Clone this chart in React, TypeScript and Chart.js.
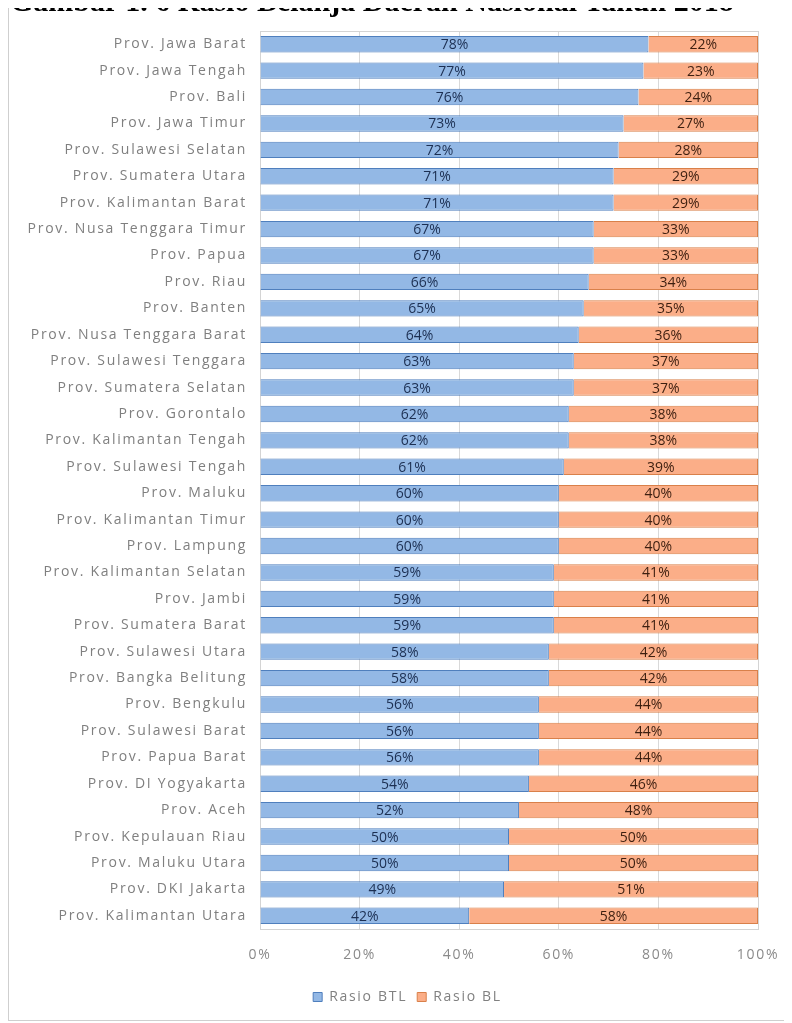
import React, { useEffect, useRef } from "react";
import { Chart, registerables } from "chart.js";

Chart.register(...registerables);

const titleText = "Gambar 1. 6 Rasio Belanja Daerah Nasional Tahun 2018";

const provinces = [
  "Prov. Jawa Barat",
  "Prov. Jawa Tengah",
  "Prov. Bali",
  "Prov. Jawa Timur",
  "Prov. Sulawesi Selatan",
  "Prov. Sumatera Utara",
  "Prov. Kalimantan Barat",
  "Prov. Nusa Tenggara Timur",
  "Prov. Papua",
  "Prov. Riau",
  "Prov. Banten",
  "Prov. Nusa Tenggara Barat",
  "Prov. Sulawesi Tenggara",
  "Prov. Sumatera Selatan",
  "Prov. Gorontalo",
  "Prov. Kalimantan Tengah",
  "Prov. Sulawesi Tengah",
  "Prov. Maluku",
  "Prov. Kalimantan Timur",
  "Prov. Lampung",
  "Prov. Kalimantan Selatan",
  "Prov. Jambi",
  "Prov. Sumatera Barat",
  "Prov. Sulawesi Utara",
  "Prov. Bangka Belitung",
  "Prov. Bengkulu",
  "Prov. Sulawesi Barat",
  "Prov. Papua Barat",
  "Prov. DI Yogyakarta",
  "Prov. Aceh",
  "Prov. Kepulauan Riau",
  "Prov. Maluku Utara",
  "Prov. DKI Jakarta",
  "Prov. Kalimantan Utara",
];

const rasioBTL = [
  78, 77, 76, 73, 72, 71, 71, 67, 67, 66, 65, 64, 63, 63, 62, 62, 61, 60, 60, 60,
  59, 59, 59, 58, 58, 56, 56, 56, 54, 52, 50, 50, 49, 42,
];

const rasioBL = [
  22, 23, 24, 27, 28, 29, 29, 33, 33, 34, 35, 36, 37, 37, 38, 38, 39, 40, 40, 40,
  41, 41, 41, 42, 42, 44, 44, 44, 46, 48, 50, 50, 51, 58,
];

const seriesNames = ["Rasio BTL", "Rasio BL"];
const xTickLabels = ["0%", "20%", "40%", "60%", "80%", "100%"];

const FONT = "'Open Sans', 'DejaVu Sans', sans-serif";

const spacingPlugin = {
  id: "spacing",
  beforeUpdate(chart: any) {
    chart.ctx.letterSpacing = "1.7px";
  },
  beforeDraw(chart: any) {
    chart.ctx.letterSpacing = "1.7px";
  },
};

const legendShiftPlugin = {
  id: "legendShift",
  afterLayout(chart: any) {
    const lg = chart.legend;
    if (lg) {
      lg.left += 24;
      lg.right += 24;
    }
  },
};

const framePlugin = {
  id: "frame",
  beforeDatasetsDraw(chart: any) {
    const { ctx, chartArea } = chart;
    ctx.save();
    ctx.strokeStyle = "#d4d4d4";
    ctx.lineWidth = 1;
    ctx.strokeRect(
      Math.round(chartArea.left) + 0.5,
      Math.round(chartArea.top) + 0.5,
      Math.round(chartArea.right - chartArea.left),
      Math.round(chartArea.bottom - chartArea.top)
    );
    ctx.restore();
  },
};

const labelColors = ["#1c2f52", "#3d1f10"];

const dataLabelPlugin = {
  id: "dataLabels",
  afterDatasetsDraw(chart: any) {
    const { ctx } = chart;
    ctx.save();
    ctx.letterSpacing = "0px";
    ctx.font = `14px ${FONT}`;
    ctx.textAlign = "center";
    ctx.textBaseline = "middle";
    chart.data.datasets.forEach((ds: any, di: number) => {
      const meta = chart.getDatasetMeta(di);
      ctx.fillStyle = labelColors[di];
      meta.data.forEach((el: any, i: number) => {
        const cx = (el.x + el.base) / 2;
        ctx.fillText(ds.data[i] + "%", cx, el.y + 1);
      });
    });
    ctx.restore();
  },
};

export default function App() {
  const canvasRef = useRef<HTMLCanvasElement | null>(null);

  useEffect(() => {
    const canvas = canvasRef.current;
    if (!canvas) return;
    const chart = new Chart(canvas, {
      type: "bar",
      data: {
        labels: provinces,
        datasets: [
          {
            label: seriesNames[0],
            data: rasioBTL,
            backgroundColor: "#93b8e5",
            borderColor: "#4f7fbd",
            borderWidth: 1,
            barPercentage: 0.62,
            categoryPercentage: 1,
          },
          {
            label: seriesNames[1],
            data: rasioBL,
            backgroundColor: "#fbae88",
            borderColor: "#d9804a",
            borderWidth: 1,
            barPercentage: 0.62,
            categoryPercentage: 1,
          },
        ],
      },
      options: {
        indexAxis: "y",
        responsive: false,
        animation: false,
        layout: { padding: { top: 23, right: 32, left: 0, bottom: 6 } },
        scales: {
          x: {
            stacked: true,
            min: 0,
            max: 100,
            ticks: {
              stepSize: 20,
              callback: (_v: any, i: number) => xTickLabels[i],
              color: "#8a8a8a",
              font: { family: FONT, size: 14 },
              padding: 18,
            },
            grid: { color: "#d9d9d9", drawTicks: false, lineWidth: 1 },
            border: { display: false },
            afterFit: (s: any) => {
              s.height = 51;
              s.paddingRight = 0;
              s.paddingLeft = 0;
            },
          },
          y: {
            stacked: true,
            ticks: {
              color: "#7f7f7f",
              font: { family: FONT, size: 14 },
              padding: 13,
              autoSkip: false,
            },
            grid: { display: false, drawTicks: false },
            border: { display: false },
            afterFit: (s: any) => {
              s.width = 251;
            },
          },
        },
        plugins: {
          legend: {
            position: "bottom",
            labels: {
              boxWidth: 9,
              boxHeight: 9,
              color: "#808080",
              font: { family: FONT, size: 14 },
              padding: 10,
            },
          },
          tooltip: { enabled: false },
        },
      },
      plugins: [spacingPlugin, legendShiftPlugin, framePlugin, dataLabelPlugin],
    } as any);
    return () => chart.destroy();
  }, []);

  return (
    <div
      style={{
        position: "relative",
        width: 783,
        height: 1014,
        marginTop: -1,
        border: "1px solid #cfcfcf",
        boxSizing: "border-box",
        background: "#ffffff",
      }}
    >
      <div
        style={{
          position: "absolute",
          top: -23,
          left: 1,
          fontFamily: "'Liberation Serif', 'Times New Roman', serif",
          fontWeight: "bold",
          fontSize: 30,
          lineHeight: "32px",
          whiteSpace: "nowrap",
          color: "#000",
        }}
      >
        {titleText}
      </div>
      <canvas
        ref={canvasRef}
        width={781}
        height={1012}
        style={{ display: "block", width: 781, height: 1012 }}
      />
    </div>
  );
}
